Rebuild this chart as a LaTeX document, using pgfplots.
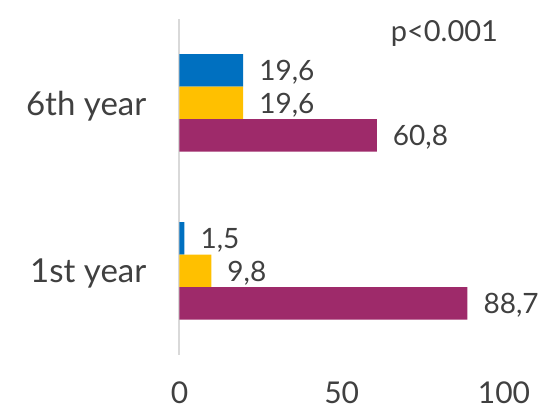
\documentclass[border=0pt]{standalone}
\usepackage{fontspec}
\setmainfont{Lato}
\usepackage{pgfplots}
\pgfplotsset{compat=1.18}
\usetikzlibrary{calc}
\definecolor{cblue}{HTML}{0070C0}
\definecolor{cgold}{HTML}{FFC000}
\definecolor{cpurple}{HTML}{9E2A6A}
\definecolor{textgray}{HTML}{404040}
\definecolor{axisgray}{HTML}{D9D9D9}
\begin{document}
\begin{tikzpicture}
\begin{axis}[
  scale only axis, width=324.5pt, height=336pt,
  xmin=0, xmax=100, ymin=0.5, ymax=2.5,
  xbar, bar width=32.5pt,
  axis lines=left,
  x axis line style={draw=none},
  y axis line style={draw=axisgray, line width=2pt, -},
  xtick={0,50,100}, ytick={1,2}, yticklabels={1st year,6th year},
  major tick length=0pt, tick style={draw=none},
  /pgf/number format/assume math mode=true,
  xticklabel style={font=\fontsize{30}{35}\selectfont, text=textgray, inner sep=0pt, text depth=0pt, yshift=-27pt},
  yticklabel style={font=\fontsize{33}{38}\selectfont, text=textgray, inner sep=0pt, text depth=0pt, xshift=-33pt},
  point meta=x,
  nodes near coords={\pgfmathprintnumber[fixed,fixed zerofill,precision=1,use comma,assume math mode=true]{\pgfplotspointmeta}},
  every node near coord/.append style={font=\fontsize{28}{34}\selectfont, text=textgray, anchor=west, inner sep=0pt, text depth=0pt, xshift=16pt},
]
\addplot[fill=cblue, draw=none, bar shift=32.5pt] coordinates {(1.5,1) (19.6,2)};
\addplot[fill=cgold, draw=none, bar shift=0pt] coordinates {(9.8,1) (19.6,2)};
\addplot[fill=cpurple, draw=none, bar shift=-32.5pt] coordinates {(88.7,1) (60.8,2)};
\node[anchor=east, inner sep=0pt, text depth=0pt, font=\fontsize{29}{34}\selectfont, text=textgray] at (axis cs:98.2,2.43) {p<0.001};
\coordinate (O) at (rel axis cs:0,0);
\end{axis}
\pgfresetboundingbox
\path[use as bounding box] ($(O)+(-179.5pt,-54pt)$) rectangle ++(541pt,409pt);
\end{tikzpicture}
\end{document}
